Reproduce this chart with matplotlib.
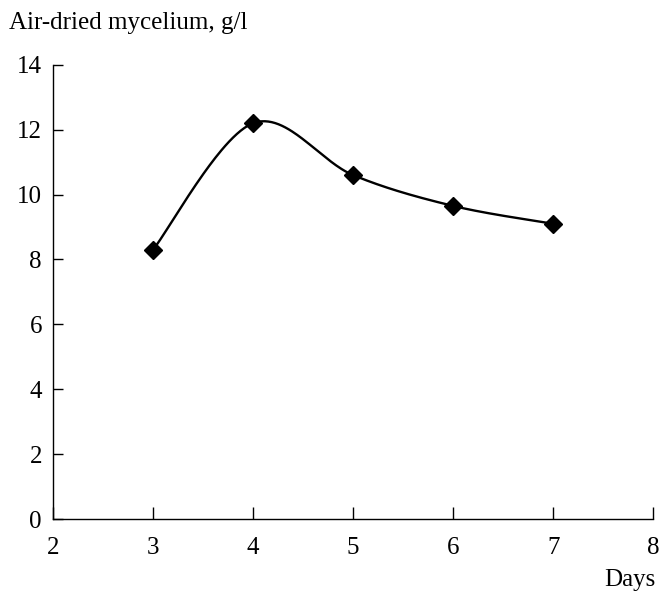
import numpy as np
import matplotlib
matplotlib.use("Agg")
import matplotlib.pyplot as plt

days = [3, 4, 5, 6, 7]
mycelium = [8.3, 12.2, 10.6, 9.65, 9.1]
xticks = [2, 3, 4, 5, 6, 7, 8]
yticks = [0, 2, 4, 6, 8, 10, 12, 14]

plt.rcParams['font.family'] = ['Liberation Serif', 'DejaVu Serif']

def smooth(x, y, n=60):
    x = np.asarray(x, float); y = np.asarray(y, float)
    px = np.concatenate([[x[0]], x, [x[-1]]])
    py = np.concatenate([[y[0]], y, [y[-1]]])
    xs, ys = [], []
    t = np.linspace(0, 1, n)
    for i in range(1, len(px) - 2):
        p0 = np.array([px[i], py[i]]); p3 = np.array([px[i+1], py[i+1]])
        p1 = p0 + (np.array([px[i+1], py[i+1]]) - np.array([px[i-1], py[i-1]])) / 6
        p2 = p3 - (np.array([px[i+2], py[i+2]]) - np.array([px[i], py[i]])) / 6
        b = ((1-t)**3)[:, None]*p0 + (3*(1-t)**2*t)[:, None]*p1 + (3*(1-t)*t**2)[:, None]*p2 + (t**3)[:, None]*p3
        xs.append(b[:, 0]); ys.append(b[:, 1])
    return np.concatenate(xs), np.concatenate(ys)

fig = plt.figure(figsize=(6.72, 6.0), dpi=100)
ax = fig.add_axes([0.079, 0.135, 0.893, 0.757])
sx, sy = smooth(days, mycelium)
ax.plot(sx, sy, color='black', lw=1.7, zorder=2)
ax.plot(days, mycelium, linestyle='none', marker='D', markersize=9, color='black', zorder=3)

ax.set_xlim(2, 8)
ax.set_ylim(0, 14)
ax.set_xticks(xticks)
ax.set_yticks(yticks)
for s in ['top', 'right']:
    ax.spines[s].set_visible(False)
for s in ['left', 'bottom']:
    ax.spines[s].set_linewidth(1.0)
ax.tick_params(axis='y', direction='in', length=7.5, width=1.0, labelsize=18, pad=8)
ax.tick_params(axis='x', direction='in', length=9, width=1.0, labelsize=18, pad=13)

fig.text(0.013, 0.962, 'Air-dried mycelium, g/l', fontsize=18, ha='left', va='center')
fig.text(0.976, 0.033, 'Days', fontsize=18, ha='right', va='center')

fig.savefig('out.png', dpi=100)
